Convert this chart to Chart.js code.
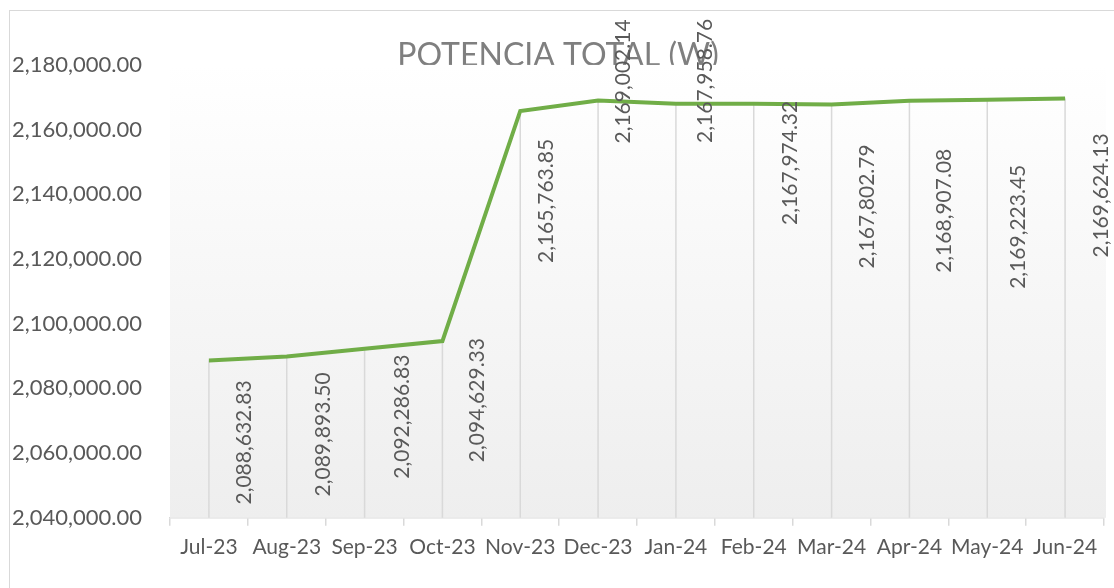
<!DOCTYPE html>
<html lang="es">
<head>
    <meta charset="UTF-8">
    <title>Potencia Total (W)</title>
    <script src="https://cdn.jsdelivr.net/npm/chart.js"></script>
    <style>
        body {
            margin: 0;
            background: #ffffff;
            overflow: hidden;
        }
        #marco {
            position: absolute;
            left: 9px;
            top: 10px;
            width: 2000px;
            height: 2000px;
            border: 1px solid #d9d9d9;
        }
        #lienzo {
            position: absolute;
            left: 0;
            top: 0;
        }
    </style>
</head>
<body>
    <div id="marco"></div>
    <canvas id="lienzo" width="1114" height="588"></canvas>

    <script>
        // Datos
        const meses = ['Jul-23', 'Aug-23', 'Sep-23', 'Oct-23', 'Nov-23', 'Dec-23',
                       'Jan-24', 'Feb-24', 'Mar-24', 'Apr-24', 'May-24', 'Jun-24'];
        const potencia = [2088632.83, 2089893.50, 2092286.83, 2094629.33, 2165763.85, 2169002.14,
                          2167958.76, 2167974.32, 2167802.79, 2168907.08, 2169223.45, 2169624.13];
        const ejeMin = 2040000;
        const ejeMax = 2180000;
        const ejePaso = 20000;

        const fuente = 'Lato, "Open Sans", sans-serif';
        const formato = v => v.toLocaleString('en-US', { minimumFractionDigits: 2, maximumFractionDigits: 2 });

        // Fondo degradado del area de trazado
        const fondoPlugin = {
            id: 'fondo',
            beforeDatasetsDraw(chart) {
                const { ctx, chartArea: a } = chart;
                const g = ctx.createLinearGradient(0, a.top, 0, a.bottom);
                g.addColorStop(0, '#ffffff');
                g.addColorStop(1, '#eeeeee');
                ctx.save();
                ctx.fillStyle = g;
                ctx.fillRect(a.left, a.top, a.right - a.left + 2, a.bottom - a.top);
                // lineas de caida desde cada punto
                const meta = chart.getDatasetMeta(0);
                ctx.strokeStyle = '#d9d9d9';
                ctx.lineWidth = 1.5;
                meta.data.forEach(p => {
                    ctx.beginPath();
                    ctx.moveTo(p.x, p.y);
                    ctx.lineTo(p.x, a.bottom);
                    ctx.stroke();
                });
                ctx.restore();
            }
        };

        // Etiquetas de datos giradas (desplazamiento respecto al punto)
        const desplazamientos = [[35, 82], [36, 78], [38, 68], [35, 59], [26, 90], [25, -19],
                                 [29, -23], [36, 59], [36, 102], [35, 110], [31, 127], [36, 97]];
        const etiquetasPlugin = {
            id: 'etiquetas',
            afterDatasetsDraw(chart) {
                const { ctx } = chart;
                const meta = chart.getDatasetMeta(0);
                ctx.save();
                ctx.font = '21px ' + fuente;
                ctx.fillStyle = '#595959';
                ctx.textAlign = 'center';
                ctx.textBaseline = 'middle';
                meta.data.forEach((p, i) => {
                    const [dx, dy] = desplazamientos[i];
                    ctx.save();
                    ctx.translate(p.x + dx, p.y + dy);
                    ctx.rotate(-Math.PI / 2);
                    ctx.fillText(formato(potencia[i]), 0, 0);
                    ctx.restore();
                });
                ctx.restore();
            }
        };

        new Chart(document.getElementById('lienzo'), {
            type: 'line',
            data: {
                labels: meses,
                datasets: [{
                    label: 'Potencia total (W)',
                    data: potencia,
                    borderColor: '#70ad47',
                    borderWidth: 4,
                    pointRadius: 0,
                    tension: 0,
                    fill: false
                }]
            },
            options: {
                responsive: false,
                animation: false,
                devicePixelRatio: 1,
                layout: {
                    padding: { left: 12, right: 10, top: 0, bottom: 19 }
                },
                scales: {
                    x: {
                        offset: true,
                        grid: {
                            offset: true,
                            drawOnChartArea: false,
                            tickLength: 8,
                            color: '#d9d9d9',
                            lineWidth: 1.5
                        },
                        border: { color: '#d9d9d9', width: 1.5 },
                        ticks: {
                            color: '#595959',
                            font: { family: fuente, size: 21 },
                            maxRotation: 0,
                            autoSkip: false,
                            padding: 9
                        }
                    },
                    y: {
                        min: ejeMin,
                        max: ejeMax,
                        grid: { display: false },
                        border: { display: false },
                        ticks: {
                            stepSize: ejePaso,
                            color: '#595959',
                            font: { family: fuente, size: 22 },
                            crossAlign: 'far',
                            callback: v => formato(v)
                        },
                        afterFit(scale) {
                            scale.width = 158;
                        }
                    }
                },
                plugins: {
                    legend: { display: false },
                    tooltip: { enabled: false },
                    title: {
                        display: true,
                        text: 'POTENCIA TOTAL (W)',
                        color: '#7f7f7f',
                        font: { family: fuente, size: 32, weight: 'normal', lineHeight: 0.56 },
                        padding: { top: 47, bottom: 0 }
                    }
                }
            },
            plugins: [fondoPlugin, etiquetasPlugin]
        });
    </script>
</body>
</html>
